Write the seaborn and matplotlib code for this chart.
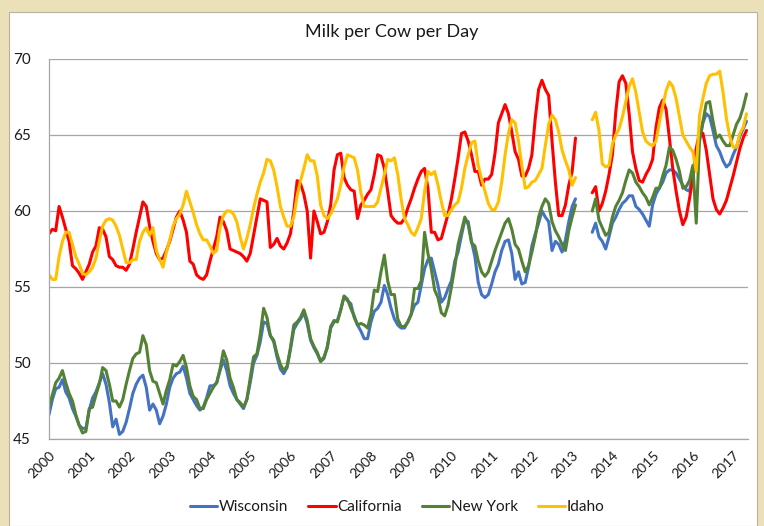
import numpy as np
import pandas as pd
import seaborn as sns
import matplotlib.pyplot as plt
from matplotlib.patches import Rectangle

nan = np.nan

# Monthly values, Jan 2000 - May 2017 (Mar-Jun 2013 missing)
wisconsin = [
    46.6, 47.6, 48.3, 48.4, 48.9, 48.1, 47.7, 47.0, 46.5, 45.9, 45.7, 45.7,
    46.9, 47.7, 48.1, 48.7, 49.3, 48.6, 47.4, 45.8, 46.3, 45.3, 45.5, 46.1,
    47.0, 48.0, 48.6, 49.0, 49.2, 48.4, 46.9, 47.3, 46.9, 46.0, 46.5, 47.3,
    48.4, 49.0, 49.3, 49.4, 49.8, 49.0, 48.0, 47.6, 47.2, 46.9, 47.1, 47.7,
    48.5, 48.5, 48.7, 49.5, 50.2, 49.5, 48.5, 48.0, 47.6, 47.3, 47.0, 47.6,
    48.7, 50.0, 50.5, 51.4, 52.7, 52.6, 51.8, 51.4, 50.4, 49.6, 49.3, 49.7,
    50.9, 52.2, 52.6, 52.9, 53.3, 52.6, 51.5, 51.0, 50.6, 50.1, 50.3, 51.1,
    52.3, 52.7, 52.8, 53.5, 54.4, 54.1, 53.9, 53.0, 52.5, 52.1, 51.6, 51.6,
    52.7, 53.4, 53.6, 54.0, 55.1, 54.5, 53.6, 52.9, 52.5, 52.3, 52.3, 52.7,
    53.2, 53.8, 54.0, 55.1, 56.2, 56.8, 56.9, 56.0, 55.1, 54.0, 54.3, 54.9,
    55.4, 56.7, 57.3, 58.4, 59.4, 59.3, 58.0, 57.0, 55.3, 54.5, 54.3, 54.5,
    55.2, 56.0, 56.5, 57.4, 58.0, 58.1, 57.2, 55.5, 56.0, 55.2, 55.3, 56.3,
    57.7, 58.5, 59.2, 60.0, 59.6, 59.3, 57.4, 58.0, 57.8, 57.3, 58.1, 59.3,
    60.3, 60.8, nan, nan, nan, nan, 58.6, 59.2, 58.3, 58.0, 57.5, 58.3,
    59.2, 59.6, 60.1, 60.5, 60.7, 61.0, 61.0, 60.3, 60.1, 59.8, 59.4, 59.0,
    60.4, 61.1, 61.5, 61.9, 62.5, 62.7, 62.7, 62.5, 62.1, 61.7, 61.4, 61.3,
    62.5, 63.4, 64.6, 65.8, 66.4, 66.2, 65.3, 64.3, 63.9, 63.3, 62.9, 63.1,
    63.7, 64.2, 64.9, 65.4, 65.9,
]
california = [
    58.5, 58.8, 58.7, 60.3, 59.6, 58.8, 58.0, 56.4, 56.2, 55.9, 55.5, 56.0,
    56.5, 57.3, 57.7, 58.9, 58.8, 58.3, 57.0, 56.8, 56.4, 56.3, 56.3, 56.1,
    56.5, 57.5, 58.6, 59.6, 60.6, 60.3, 59.0, 58.0, 57.2, 56.8, 56.9, 57.4,
    58.0, 58.8, 59.6, 60.0, 59.4, 58.6, 56.7, 56.5, 55.8, 55.6, 55.5, 55.8,
    56.7, 57.5, 58.3, 59.6, 59.3, 58.7, 57.5, 57.4, 57.3, 57.2, 57.0, 56.7,
    57.2, 58.4, 59.6, 60.8, 60.7, 60.6, 57.6, 57.8, 58.2, 57.7, 57.5, 57.9,
    58.5, 60.0, 62.0, 61.8, 61.1, 60.0, 56.9, 60.0, 59.3, 58.5, 58.6, 59.3,
    60.4, 62.7, 63.7, 63.8, 62.2, 61.7, 61.4, 61.3, 59.5, 60.4, 60.7, 61.1,
    61.4, 62.4, 63.7, 63.6, 62.8, 61.3, 59.7, 59.4, 59.2, 59.2, 59.5, 60.2,
    60.8, 61.5, 62.1, 62.6, 62.8, 61.5, 58.6, 58.6, 58.1, 58.2, 59.0, 59.8,
    60.8, 62.1, 63.5, 65.1, 65.2, 64.6, 63.7, 62.6, 62.6, 61.7, 62.1, 62.1,
    62.4, 63.8, 65.8, 66.4, 67.0, 66.4, 65.2, 63.9, 63.4, 62.3, 62.3, 62.8,
    63.7, 66.1, 68.0, 68.6, 68.0, 67.6, 64.6, 61.9, 59.7, 59.7, 60.4, 61.7,
    62.6, 64.8, nan, nan, nan, nan, 61.2, 61.6, 60.0, 60.5, 61.3, 62.4,
    63.7, 66.5, 68.5, 68.9, 68.4, 66.4, 63.9, 62.8, 62.0, 61.9, 62.4, 62.8,
    63.4, 65.5, 66.8, 67.3, 66.7, 64.8, 62.8, 61.3, 60.0, 59.1, 59.6, 60.8,
    62.2, 64.1, 65.2, 65.1, 64.0, 62.4, 60.8, 60.1, 59.8, 60.2, 60.7, 61.5,
    62.3, 63.2, 64.1, 64.8, 65.3,
]
new_york = [
    47.1, 47.9, 48.7, 49.0, 49.5, 48.7, 48.0, 47.5, 46.6, 45.9, 45.4, 45.5,
    47.0, 47.1, 47.9, 48.6, 49.7, 49.5, 48.6, 47.5, 47.5, 47.1, 47.6, 48.6,
    49.5, 50.3, 50.6, 50.7, 51.8, 51.2, 49.5, 48.8, 48.7, 48.0, 47.3, 48.2,
    48.9, 49.9, 49.8, 50.1, 50.5, 49.7, 48.5, 47.8, 47.6, 47.0, 47.0, 47.6,
    48.0, 48.4, 48.7, 49.6, 50.8, 50.2, 49.0, 48.4, 47.6, 47.4, 47.1, 47.6,
    49.0, 50.4, 50.6, 51.9, 53.6, 53.0, 51.8, 51.5, 50.6, 49.9, 49.5, 49.8,
    51.0, 52.5, 52.7, 53.0, 53.5, 52.8, 51.6, 51.1, 50.7, 50.1, 50.4, 51.0,
    52.4, 52.8, 52.7, 53.5, 54.4, 54.2, 53.6, 53.1, 52.5, 52.6, 52.5, 52.3,
    53.2, 54.8, 54.7, 56.0, 57.1, 55.4, 54.5, 54.5, 52.9, 52.4, 52.4, 52.7,
    53.2, 54.9, 54.9, 55.4, 58.6, 57.2, 56.2, 54.8, 54.3, 53.3, 53.1, 53.8,
    55.0, 56.3, 57.8, 58.7, 59.6, 59.1, 57.9, 57.7, 56.7, 56.0, 55.7, 56.0,
    56.7, 57.4, 58.0, 58.6, 59.2, 59.5, 58.8, 57.8, 57.5, 56.7, 56.0, 56.4,
    57.3, 58.3, 59.6, 60.3, 60.8, 60.5, 59.3, 58.7, 58.3, 57.8, 57.4, 58.7,
    59.6, 60.4, nan, nan, nan, nan, 60.0, 60.8, 59.4, 58.9, 58.4, 58.6,
    59.6, 60.3, 60.7, 61.2, 62.0, 62.7, 62.5, 61.9, 61.6, 61.2, 60.9, 60.4,
    60.9, 61.5, 61.5, 62.3, 63.0, 64.2, 64.0, 63.4, 62.6, 61.5, 61.6, 62.0,
    63.0, 59.2, 64.8, 65.9, 67.1, 67.2, 65.9, 64.8, 65.0, 64.6, 64.3, 64.3,
    65.0, 65.7, 66.1, 66.8, 67.7,
]
idaho = [
    55.8, 55.5, 55.5, 57.0, 58.0, 58.6, 58.6, 57.8, 57.0, 56.5, 55.9, 55.8,
    56.0, 56.3, 56.9, 58.0, 59.0, 59.4, 59.5, 59.4, 59.0, 58.4, 57.5, 56.6,
    56.6, 56.8, 56.8, 58.0, 58.6, 58.9, 58.4, 58.9, 57.4, 56.8, 56.3, 57.3,
    58.1, 59.0, 59.5, 59.8, 60.4, 61.3, 60.6, 59.9, 59.1, 58.5, 58.1, 58.1,
    57.7, 57.2, 57.4, 58.9, 59.7, 60.0, 60.0, 59.8, 59.3, 58.3, 57.5, 58.2,
    59.1, 60.2, 61.1, 61.9, 62.5, 63.4, 63.3, 62.7, 61.6, 60.3, 59.6, 59.0,
    59.0, 59.6, 61.0, 62.0, 62.8, 63.7, 63.3, 63.3, 62.3, 60.4, 59.7, 59.5,
    59.8, 60.3, 60.8, 61.7, 62.9, 63.7, 63.6, 63.5, 62.7, 61.2, 60.3, 60.3,
    60.3, 60.3, 60.6, 61.5, 62.4, 63.4, 63.3, 63.5, 62.4, 60.8, 59.5, 59.1,
    58.6, 58.4, 58.9, 59.5, 61.3, 62.6, 62.4, 62.6, 61.7, 60.6, 59.7, 59.7,
    60.1, 60.4, 60.6, 61.5, 62.8, 63.7, 64.5, 64.6, 63.0, 62.1, 61.3, 60.5,
    60.1, 60.1, 60.6, 61.9, 63.7, 65.1, 66.0, 65.8, 64.6, 63.0, 61.5, 61.6,
    61.9, 62.0, 62.4, 62.8, 64.3, 65.7, 66.3, 66.0, 65.2, 64.0, 63.3, 62.7,
    61.7, 62.2, nan, nan, nan, nan, 66.0, 66.5, 65.3, 63.1, 62.9, 63.0,
    64.4, 65.0, 65.4, 66.2, 67.2, 68.2, 68.7, 67.8, 66.5, 65.2, 64.6, 64.4,
    64.3, 64.6, 65.8, 66.9, 67.9, 68.5, 68.2, 67.4, 66.2, 65.0, 64.6, 64.2,
    63.9, 62.6, 66.3, 67.4, 68.4, 68.9, 69.0, 69.0, 69.2, 67.8, 66.1, 64.9,
    64.2, 64.2, 65.1, 65.5, 66.4,
]

states = ["Wisconsin", "California", "New York", "Idaho"]
colors = ["#4472C4", "#FF0000", "#548235", "#FFC000"]
years = list(range(2000, 2018))

# Build long-form table
rows = []
for state, vals in zip(states, [wisconsin, california, new_york, idaho]):
    for i, v in enumerate(vals):
        if np.isnan(v):
            continue
        rows.append({"date": 2000 + i / 12, "value": v, "state": state,
                     "segment": 0 if i < 158 else 1})
df = pd.DataFrame(rows)

sns.set_style("white")
plt.rcParams["font.family"] = ["Lato", "DejaVu Sans"]
plt.rcParams["text.color"] = "#1a1a1a"
plt.rcParams["xtick.color"] = "#1a1a1a"
plt.rcParams["ytick.color"] = "#1a1a1a"

W, H = 764, 526
fig = plt.figure(figsize=(W / 100, H / 100), dpi=100, facecolor="#EBE1B9")
fig.patches.append(Rectangle((9 / W, 0), (757 - 9) / W, (H - 12) / H,
                             transform=fig.transFigure, facecolor="white",
                             edgecolor="#B8B0A0", lw=0.8, zorder=-10))

ax = fig.add_axes([49 / W, 1 - 439 / H, (748 - 49) / W, (439 - 59) / H])
ax.set_zorder(1)
ax.patch.set_alpha(0)
sns.lineplot(data=df, x="date", y="value", hue="state", units="segment",
             estimator=None, palette=colors, hue_order=states,
             linewidth=2.2, ax=ax)
for line in ax.get_lines():
    line.set_solid_joinstyle("round")

ax.set_xlim(2000, 2017.37)
ax.set_ylim(45, 70)
ax.set_yticks(range(45, 71, 5))
ax.set_xticks(years)
ax.set_xticklabels([str(y) for y in years], rotation=45, ha="right",
                   rotation_mode="anchor")
ax.set_xlabel("")
ax.set_ylabel("")
ax.grid(axis="y", color="#A6A6A6", lw=0.9)
ax.set_axisbelow(True)
for side in ["top", "right"]:
    ax.spines[side].set_visible(False)
for side in ["left", "bottom"]:
    ax.spines[side].set_color("#A6A6A6")
    ax.spines[side].set_linewidth(0.9)
ax.tick_params(axis="x", length=5, width=0.9, color="#A6A6A6",
               labelsize=10, pad=2)
ax.tick_params(axis="y", length=0, labelsize=11, pad=13)

fig.text(0.513, 0.939, "Milk per Cow per Day", ha="center", va="center",
         fontsize=13)

handles, labels = ax.get_legend_handles_labels()
ax.get_legend().remove()
fig.legend(handles, labels, loc="center", bbox_to_anchor=(0.52, 0.036),
           ncol=4, frameon=False, fontsize=11, handlelength=1.8,
           handletextpad=0.1, columnspacing=1.3)

fig.savefig("out.png", dpi=100, facecolor=fig.get_facecolor())
